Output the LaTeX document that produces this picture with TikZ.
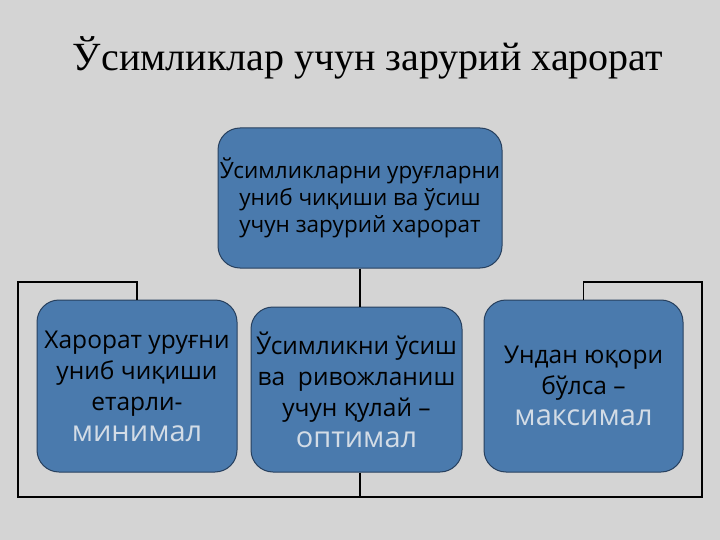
\documentclass[tikz,border=0pt]{standalone}
\usepackage{fontspec}
\setmainfont{Liberation Serif}
\newfontfamily\boxfont{Open Sans}
\definecolor{slidebg}{HTML}{D4D4D4}
\definecolor{boxblue}{HTML}{4A7AAD}
\definecolor{boxline}{HTML}{27405E}
\definecolor{hilite}{HTML}{D3DCE6}
\tikzset{
  blockbox/.style={draw=boxline, fill=boxblue, rounded corners=22pt, line width=1pt,
    inner sep=0pt, align=center, font=\boxfont\fontsize{24.5}{31}\selectfont},
  link/.style={draw=black, line width=1.2pt}
}
\newcommand{\hl}[1]{{\color{hilite}\fontsize{29}{33}\selectfont #1}}
\begin{document}
\begin{tikzpicture}[x=1pt,y=-1pt]
  \fill[slidebg] (0,0) rectangle (720,540);
  \useasboundingbox (0,0) rectangle (720,540);
  \node[font=\fontsize{40}{46}\selectfont] (title) at (368,58) {Ўсимликлар учун зарурий харорат};
  \node[blockbox, minimum width=284pt, minimum height=140pt,
    font=\boxfont\fontsize{22.5}{27}\selectfont] (top) at (360,198)
    {Ўсимликларни уруғларни\\ униб чиқиши ва ўсиш\\ учун зарурий харорат};
  \node[blockbox, minimum width=200pt, minimum height=172pt] (low) at (137,386)
    {Харорат уруғни\\ униб чиқиши\\ етарли-\\ \hl{минимал}};
  \node[blockbox, minimum width=211pt, minimum height=165pt] (opt) at (356.5,389.5)
    {Ўсимликни ўсиш\\ ва\ \ ривожланиш\\ учун қулай –\\ \hl{оптимал}};
  \node[blockbox, minimum width=199pt, minimum height=172pt] (high) at (583.5,386)
    {Ундан юқори\\ бўлса –\\ \hl{максимал}};
  \coordinate (lc) at (18,282);
  \coordinate (rc) at (702,282);
  \coordinate (bl) at (18,497);
  \coordinate (br) at (702,497);
  \draw[link] (top.south) -- (opt.north -| top.south);
  \draw[link] (low.north) -- (low.north |- lc) -- (lc) -- (bl) -- (br) -- (rc) -- (high.north |- rc) -- (high.north);
  \draw[link] (opt.south -| top.south) -- (bl -| top.south);
\end{tikzpicture}
\end{document}
